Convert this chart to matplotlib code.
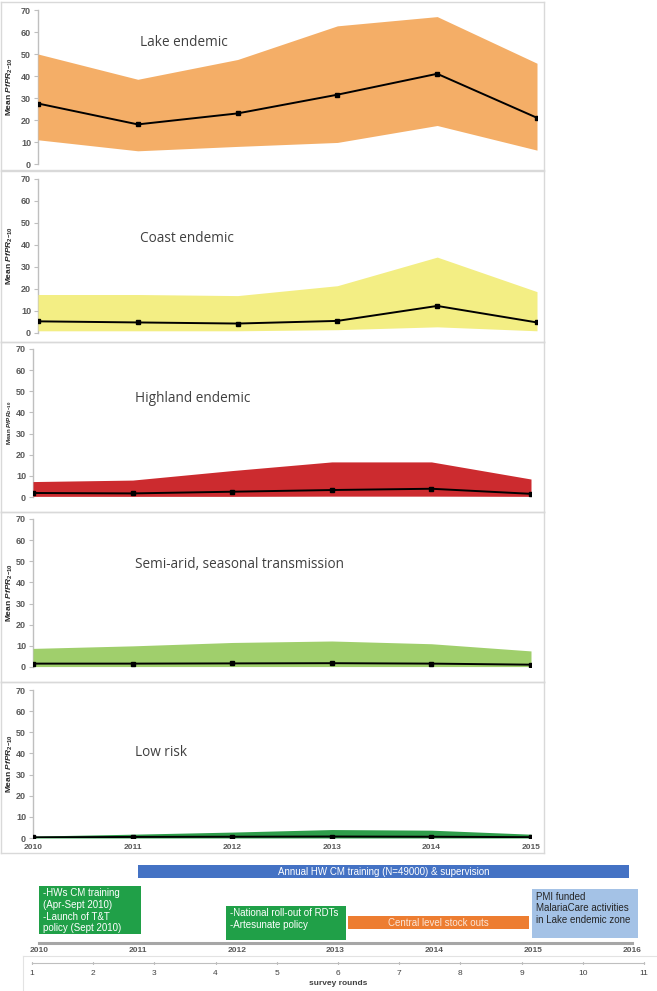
import matplotlib
matplotlib.use("Agg")
import matplotlib.pyplot as plt
from matplotlib.patches import Rectangle

plt.rcParams['font.family'] = ['Liberation Sans', 'DejaVu Sans']
plt.rcParams['mathtext.fontset'] = 'custom'
plt.rcParams['mathtext.rm'] = 'Liberation Sans:bold'
plt.rcParams['mathtext.it'] = 'Liberation Sans:bold:italic'
plt.rcParams['mathtext.bf'] = 'Liberation Sans:bold'

# ---------------- data ----------------
years = [2010, 2011, 2012, 2013, 2014, 2015]
zones = ["Lake endemic", "Coast endemic", "Highland endemic",
         "Semi-arid, seasonal transmission", "Low risk"]

lake_mean = [27.5, 18.0, 23.0, 31.5, 41.0, 21.0]
lake_low = [11.0, 6.0, 8.0, 9.8, 17.5, 6.3]
lake_up = [50.0, 38.5, 47.5, 62.8, 67.0, 45.8]

coast_mean = [5.3, 4.8, 4.3, 5.5, 12.3, 4.8]
coast_low = [1.0, 1.0, 1.0, 1.5, 2.8, 1.0]
coast_up = [17.5, 17.5, 17.0, 21.5, 34.5, 18.8]

high_mean = [1.9, 1.7, 2.5, 3.3, 3.9, 1.5]
high_low = [0.3, 0.3, 0.3, 0.4, 0.4, 0.3]
high_up = [7.3, 8.0, 12.5, 16.6, 16.6, 8.5]

semi_mean = [1.6, 1.6, 1.7, 1.8, 1.6, 1.1]
semi_low = [0.2, 0.2, 0.2, 0.2, 0.2, 0.2]
semi_up = [8.8, 10.0, 11.6, 12.3, 11.0, 7.6]

low_mean = [0.3, 0.5, 0.6, 0.7, 0.6, 0.4]
low_low = [0.0, 0.0, 0.0, 0.0, 0.0, 0.0]
low_up = [0.9, 1.8, 2.8, 4.0, 3.7, 1.8]

yticks = [0, 10, 20, 30, 40, 50, 60, 70]

# timeline events (start year, end year)
hw_label = "Annual HW CM training (N=49000) & supervision"
hw_span = (2011.0, 2015.97)
box1_label = "-HWs CM training\n(Apr-Sept 2010)\n-Launch of T&T\npolicy (Sept 2010)"
box1_span = (2010.0, 2011.03)
box2_label = "-National roll-out of RDTs\n-Artesunate policy"
box2_span = (2011.89, 2013.11)
stock_label = "Central level stock outs"
stock_span = (2013.13, 2014.96)
pmi_label = "PMI funded\nMalariaCare activities\nin Lake endemic zone"
pmi_span = (2014.99, 2016.06)
timeline_years = [2010, 2011, 2012, 2013, 2014, 2015, 2016]
survey_rounds = list(range(1, 12))

# ---------------- layout ----------------
W, H = 657, 991
fig = plt.figure(figsize=(W / 100, H / 100), dpi=100)


def fx(px):
    return px / W


def fy(py):
    return 1 - py / H


def add_px_axes(x0, y0, x1, y1, **kw):
    return fig.add_axes([fx(x0), fy(y1), fx(x1) - fx(x0), fy(y0) - fy(y1)], **kw)


series = [
    (lake_mean, lake_low, lake_up, "#F4AE67"),
    (coast_mean, coast_low, coast_up, "#F3EE84"),
    (high_mean, high_low, high_up, "#CC2B2F"),
    (semi_mean, semi_low, semi_up, "#A0CF6C"),
    (low_mean, low_low, low_up, "#2E9E4A"),
]
# panel frames (top, bottom) and axes (left, right, y70, y0)
frames = [(2, 170), (171, 342), (342, 512), (512, 682), (682, 853)]
axes_px = [(38, 537, 10, 164), (38, 537, 179, 333), (33, 531, 349, 497),
           (33, 531, 519, 667), (33, 531, 690, 838)]
title_px = [(140, 43), (140, 239), (135, 399), (135, 565), (135, 753)]

grey_spine = "#BFBFBF"
tick_col = "#595959"

for i, (mean, lo, up, col) in enumerate(series):
    ft, fb = frames[i]
    fr = add_px_axes(1, ft, 544, fb)
    fr.set_xticks([]); fr.set_yticks([])
    fr.patch.set_alpha(0)
    for s in fr.spines.values():
        s.set_color("#D9D9D9"); s.set_linewidth(1.0)

    L, R, y70, y0 = axes_px[i]
    ax = add_px_axes(L, y70, R, y0)
    ax.patch.set_alpha(0)
    ax.fill_between(years, lo, up, color=col, lw=0, zorder=1)
    ax.plot(years, mean, color="black", lw=1.4, marker="s", ms=2.2, zorder=3)
    ax.set_xlim(years[0], years[-1])
    ax.set_ylim(0, 70)
    ax.set_yticks(yticks)
    ax.set_yticklabels([str(t) for t in yticks], fontsize=6.5, fontweight="bold",
                       color=tick_col)
    ax.tick_params(axis="y", length=3, width=0.8, color=grey_spine, pad=2)
    for s in ["top", "right", "bottom"]:
        ax.spines[s].set_visible(False)
    ax.spines["left"].set_color(grey_spine)
    ax.spines["left"].set_linewidth(1.0)
    ax.spines["left"].set_zorder(0)
    if i == 4:
        ax.set_xticks(years)
        ax.set_xticklabels([str(y) for y in years], fontsize=6, fontweight="bold",
                           color=tick_col)
        ax.tick_params(axis="x", length=0, pad=4)
    else:
        ax.set_xticks([])
    tx, ty = title_px[i]
    fig.text(fx(tx), fy(ty), zones[i], fontsize=9.8, color="#404040",
             family=["Open Sans", "DejaVu Sans"], ha="left", va="center")
    fig.text(fx(10), fy((y70 + y0) / 2), r"Mean $\mathit{PfPR}_{2\mathrm{-}10}$",
             rotation=90, fontsize=6 if i != 2 else 4.5, fontweight="bold",
             color="#262626", ha="center", va="center")

# ---------------- timeline ----------------
tl = add_px_axes(39, 858, 632, 943)
tl.set_xlim(timeline_years[0], timeline_years[-1])
tl.set_ylim(943, 858)
tl.patch.set_alpha(0)
for s in ["top", "right", "left"]:
    tl.spines[s].set_visible(False)
tl.spines["bottom"].set_color("#A6A6A6")
tl.spines["bottom"].set_linewidth(2.2)
tl.set_yticks([])
tl.set_xticks(timeline_years)
tl.set_xticklabels([str(y) for y in timeline_years], fontsize=6,
                   fontweight="bold", color=tick_col)
tl.tick_params(axis="x", length=0, pad=3)


def event(span, top, bottom, color, label, tcolor, align="center"):
    x0, x1 = span
    tl.add_patch(Rectangle((x0, top), x1 - x0, bottom - top, facecolor=color,
                           edgecolor="none", clip_on=False, zorder=2))
    if align == "center":
        tl.text((x0 + x1) / 2, (top + bottom) / 2 + 0.5, label, color=tcolor,
                fontsize=7, ha="center", va="center", zorder=3)
    else:
        tl.text(x0 + 0.04, top + 2.5, label, color=tcolor, fontsize=7,
                ha="left", va="top", zorder=3, linespacing=1.2)


event(hw_span, 865, 878, "#4472C4", hw_label, "white")
event(box1_span, 886, 934, "#20A048", box1_label, "white", align="left")
event(box2_span, 906, 940, "#20A048", box2_label, "white", align="left")
event(stock_span, 916, 929, "#ED7D31", stock_label, "#FBE5D6")
event(pmi_span, 889, 938, "#A4C2E6", pmi_label, "#262626", align="left")

# ---------------- survey rounds ----------------
sb = add_px_axes(23, 956, 700, 1005)
sb.set_xticks([]); sb.set_yticks([])
sb.patch.set_alpha(0)
for s in sb.spines.values():
    s.set_color("#E3E3E3"); s.set_linewidth(0.8)

sr = add_px_axes(32, 962, 644, 963)
sr.set_xlim(survey_rounds[0], survey_rounds[-1])
sr.patch.set_alpha(0)
for s in ["top", "right", "left"]:
    sr.spines[s].set_visible(False)
sr.spines["bottom"].set_color("#BFBFBF")
sr.spines["bottom"].set_linewidth(0.8)
sr.set_yticks([])
sr.set_xticks(survey_rounds)
sr.set_xticklabels([str(r) for r in survey_rounds], fontsize=6, color="#404040")
sr.tick_params(axis="x", length=2, width=0.8, color="#808080", direction="inout", pad=4)
sr.set_xlabel("survey rounds", fontsize=6, fontweight="bold", color="#404040",
              labelpad=2)

fig.savefig("out.png", dpi=100)
